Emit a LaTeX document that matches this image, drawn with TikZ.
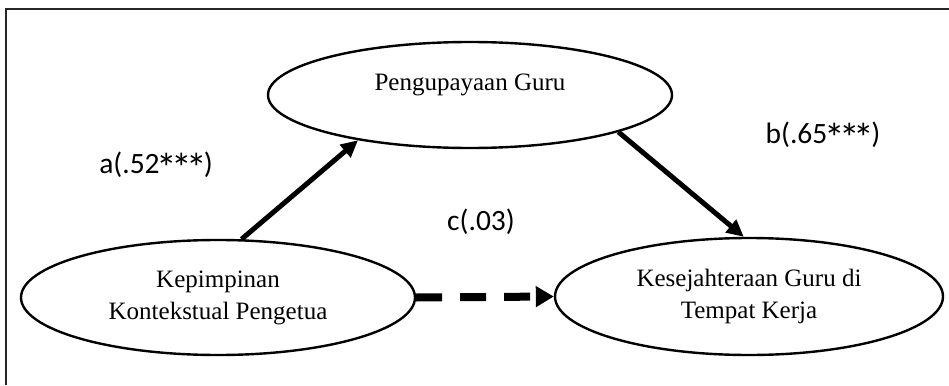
\documentclass[tikz,border=0pt]{standalone}
\usepackage{fontspec}
\setmainfont{Liberation Serif}
\newfontfamily\labfont{Carlito}
\usetikzlibrary{shapes.geometric,arrows.meta}
\newcommand\bigast{\makebox[0.498em]{\raisebox{-0.3em}{\scalebox{1.4}{*}}}}
\begin{document}
\begin{tikzpicture}[x=1pt,y=-1pt,
  var/.style={ellipse,draw,line width=2.4pt,inner sep=0pt,align=center,
    font=\fontsize{25}{32}\selectfont},
  pathar/.style={line width=5pt,-{Triangle[length=17pt,width=16pt]}},
  dasharr/.style={line width=8pt,dash pattern=on 26pt off 18pt,
    -{Triangle[length=18pt,width=20pt]}},
  coef/.style={font=\labfont\fontsize{29.5}{35}\selectfont,inner sep=0pt},
  frameline/.style={line width=1.4pt,black!85}]
\useasboundingbox (0,0) rectangle (949,385);
\coordinate (fb) at (6,385);
\coordinate (fc) at (6,9);
\coordinate (fr) at (949,9);
\draw[frameline] (fb) -- (fc) -- (fr);

\node[var,minimum width=404pt,minimum height=106pt] (T) at (470,95)
  {\raisebox{10pt}[\height][\depth]{Pengupayaan Guru}};
\node[var,minimum width=394pt,minimum height=115pt] (L) at (218,297.5)
  {Kepimpinan\\Kontekstual Pengetua};
\node[var,minimum width=388pt,minimum height=117pt] (R) at (749,296.5)
  {Kesejahteraan Guru di\\Tempat Kerja};

\draw[pathar] (L.68.9) -- (T.202.3);
\draw[pathar] (T.-14.9) -- (R.95.8);
\draw[dasharr] (L.east) -- (R.west);

\node[coef] (a) at (156,167) {a(.52\bigast\bigast\bigast)};
\node[coef] (b) at (823,137) {b(.65\bigast\bigast\bigast)};
\node[coef] (c) at (481,222) {c(.03)};
\end{tikzpicture}
\end{document}
